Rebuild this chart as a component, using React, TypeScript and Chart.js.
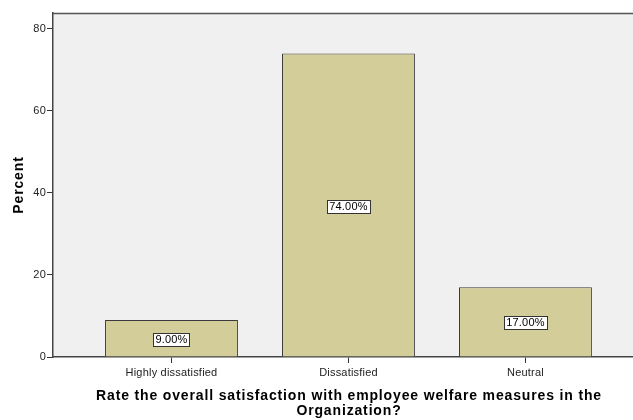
import React, { useEffect, useRef } from "react";
import { Chart, registerables } from "chart.js";

Chart.register(...registerables);

const categories = ["Highly dissatisfied", "Dissatisfied", "Neutral"];
const percents = [9.0, 74.0, 17.0];
const yTicks = [0, 20, 40, 60, 80];
const xTitle = ["Rate the overall satisfaction with employee welfare measures in the", "Organization?"];
const yTitle = "Percent";

const FONT = "'Liberation Sans', Arial, Helvetica, sans-serif";

const plotBg = {
  id: "plotBg",
  beforeDraw(chart: any) {
    const { ctx, chartArea: a } = chart;
    ctx.save();
    ctx.fillStyle = "#F0F0F0";
    ctx.fillRect(a.left, a.top, a.right - a.left, a.bottom - a.top);
    ctx.restore();
    (ctx as any).letterSpacing = "0.2px";
  },
  afterDraw(chart: any) {
    const { ctx, chartArea: a } = chart;
    ctx.save();
    ctx.strokeStyle = "#555555";
    ctx.lineWidth = 1.5;
    ctx.beginPath();
    ctx.moveTo(a.left, a.top + 0.5);
    ctx.lineTo(a.right, a.top + 0.5);
    ctx.stroke();

    // axis titles
    (ctx as any).letterSpacing = "0.85px";
    ctx.fillStyle = "#000000";
    ctx.font = `bold 14px ${FONT}`;
    ctx.textAlign = "center";
    ctx.textBaseline = "middle";
    const cx = (a.left + a.right) / 2;
    const lh = 15;
    const firstY = 396.5;
    xTitle.forEach((line, i) => ctx.fillText(line, cx, firstY + i * lh));
    ctx.translate(19, (a.top + a.bottom) / 2);
    ctx.rotate(-Math.PI / 2);
    ctx.fillText(yTitle, 0, 0);
    ctx.restore();
    (ctx as any).letterSpacing = "0px";
  },
};

const barLabels = {
  id: "barLabels",
  afterDatasetsDraw(chart: any) {
    const { ctx } = chart;
    const meta = chart.getDatasetMeta(0);
    ctx.save();
    (ctx as any).letterSpacing = "0.2px";
    ctx.font = `11px ${FONT}`;
    ctx.textAlign = "center";
    ctx.textBaseline = "middle";
    meta.data.forEach((el: any, i: number) => {
      const text = percents[i].toFixed(2) + "%";
      const cx = el.x;
      const cy = (el.y + el.base) / 2 + 1;
      const w = ctx.measureText(text).width + 4;
      const h = 13;
      const bx = Math.round(cx - w / 2) + 0.5;
      const by = Math.round(cy - h / 2) + 0.5;
      ctx.fillStyle = "#FFFFFF";
      ctx.fillRect(bx, by, Math.round(w), h);
      ctx.strokeStyle = "#333333";
      ctx.lineWidth = 1;
      ctx.strokeRect(bx, by, Math.round(w), h);
      ctx.fillStyle = "#000000";
      ctx.fillText(text, cx, cy + 0.5);
    });
    ctx.restore();
  },
};

export default function App() {
  const ref = useRef<HTMLCanvasElement>(null);
  useEffect(() => {
    document.body.style.margin = "0";
    const chart = new Chart(ref.current!, {
      type: "bar",
      data: {
        datasets: [
          {
            data: percents.map((v, i) => ({ x: i, y: v })),
            backgroundColor: "#D3CE99",
            borderColor: "#3A3A3A",
            borderWidth: 1,
            barPercentage: 0.751,
            categoryPercentage: 1,
          },
        ],
      },
      options: {
        animation: false,
        responsive: false,
        layout: { padding: { top: 13, left: 0, right: 0, bottom: 0 } },
        plugins: { legend: { display: false }, tooltip: { enabled: false } },
        scales: {
          x: {
            type: "linear",
            offset: false,
            min: -0.6695,
            max: 2.6755,
            afterBuildTicks: (s: any) => {
              s.ticks = categories.map((_, i) => ({ value: i }));
            },
            afterFit: (s: any) => {
              s.height = 63;
            },
            ticks: {
              callback: (v: any) => categories[v as number] ?? "",
              font: { family: FONT, size: 11 },
              color: "#222222",
              padding: 3,
              maxRotation: 0,
              autoSkip: false,
            },
            grid: { offset: false, drawOnChartArea: false, drawTicks: true, tickLength: 6, color: "#333333" },
            border: { color: "#444444", width: 1.5 },
            title: { display: false },
          },
          y: {
            min: 0,
            max: 83.9,
            afterBuildTicks: (s: any) => {
              s.ticks = yTicks.map((v) => ({ value: v }));
            },
            afterFit: (s: any) => {
              s.width = 53;
            },
            ticks: {
              font: { family: FONT, size: 11 },
              color: "#222222",
              padding: 1,
            },
            grid: { drawOnChartArea: false, drawTicks: true, tickLength: 6, color: "#333333" },
            border: { color: "#444444", width: 1.5 },
            title: { display: false },
          },
        },
      },
      plugins: [plotBg, barLabels],
    });
    return () => chart.destroy();
  }, []);
  return (
    <div style={{ width: 633, height: 420, overflow: "hidden", position: "relative" }}>
      <canvas ref={ref} width={645} height={420} style={{ display: "block" }} />
    </div>
  );
}
